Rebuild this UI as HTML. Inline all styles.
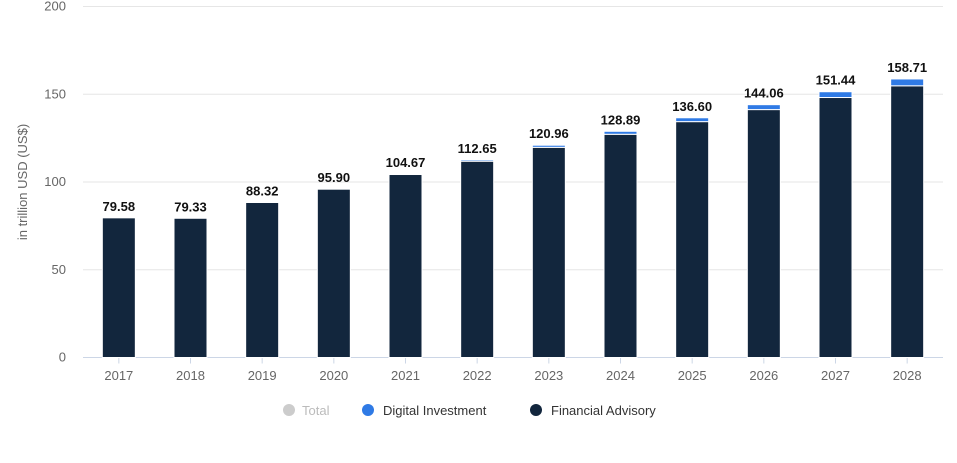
<!DOCTYPE html>
<html><head><meta charset="utf-8"><style>
body{margin:0;background:#fff;font-family:"Liberation Sans",sans-serif;}
svg text{font-family:"Liberation Sans",sans-serif;}
</style></head><body>
<svg id="c" width="957" height="458">
<g id="grid"></g><g id="bars"></g><g id="labels"></g>
<text transform="translate(27,182) rotate(-90)" text-anchor="middle" font-size="13" fill="#666">in trillion USD (US$)</text>
<g font-size="13" fill="#333">
<g><circle cx="289" cy="410" r="6" fill="#ccc"/><text x="302" y="415" fill="#bbb">Total</text></g>
<g><circle cx="368" cy="410" r="6" fill="#2f7ae5"/><text x="383" y="415">Digital Investment</text></g>
<g><circle cx="536" cy="410" r="6" fill="#12263d"/><text x="551" y="415">Financial Advisory</text></g>
</g>
</svg>
<script>
const years=["2017","2018","2019","2020","2021","2022","2023","2024","2025","2026","2027","2028"];
const totals=[79.58,79.33,88.32,95.90,104.67,112.65,120.96,128.89,136.60,144.06,151.44,158.71];
const digital=[0,0,0,0,0.4,0.8,1.2,1.7,2.2,2.8,3.3,3.9];
const yTicks=[0,50,100,150,200];
const NS="http://www.w3.org/2000/svg";
const x0=83,x1=943,yTop=6.5,yBot=357.5;
const y=v=>yBot-(v/200)*(yBot-yTop);
const step=(x1-x0)/years.length;
const xc=i=>x0+step*(i+0.5);
const bw=33;
function mk(t,a,p){const e=document.createElementNS(NS,t);for(const k in a)e.setAttribute(k,a[k]);p.appendChild(e);return e;}
const g=document.getElementById('grid'),b=document.getElementById('bars'),l=document.getElementById('labels');
yTicks.forEach(v=>{
 const ln=mk('line',{x1:x0,x2:x1,y1:y(v),y2:y(v),stroke:v===0?'#ccd6e6':'#e6e6e6','stroke-width':1},g);
 
 
 const t=mk('text',{x:66,y:y(v)+4,'text-anchor':'end','font-size':13,fill:'#666'},g);t.textContent=v;
 
 
});
years.forEach((yr,i)=>{
 const cx=xc(i),fin=totals[i]-digital[i];
 const tk=mk('line',{x1:cx,x2:cx,y1:yBot,y2:yBot+6,stroke:'#ccd6e6'},g);
 
 
 const r=mk('rect',{x:cx-bw/2,y:y(fin),width:bw,height:y(0)-y(fin),fill:'#12263d',stroke:'#fff','stroke-width':1},b);
 
 
 if(digital[i]>0){
  const d=mk('rect',{x:cx-bw/2,y:y(totals[i]),width:bw,height:y(fin)-y(totals[i]),fill:'#2f7ae5',stroke:'#fff','stroke-width':1},b);
  
  
 }
 const vt=mk('text',{x:cx,y:y(totals[i])-7,'text-anchor':'middle','font-size':13,'font-weight':'bold',fill:'#111'},l);
 vt.textContent=totals[i].toFixed(2);
 
 
 const xt=mk('text',{x:cx,y:380,'text-anchor':'middle','font-size':13,fill:'#666'},l);
 xt.textContent=yr;
 
 
});
</script>
</body></html>
